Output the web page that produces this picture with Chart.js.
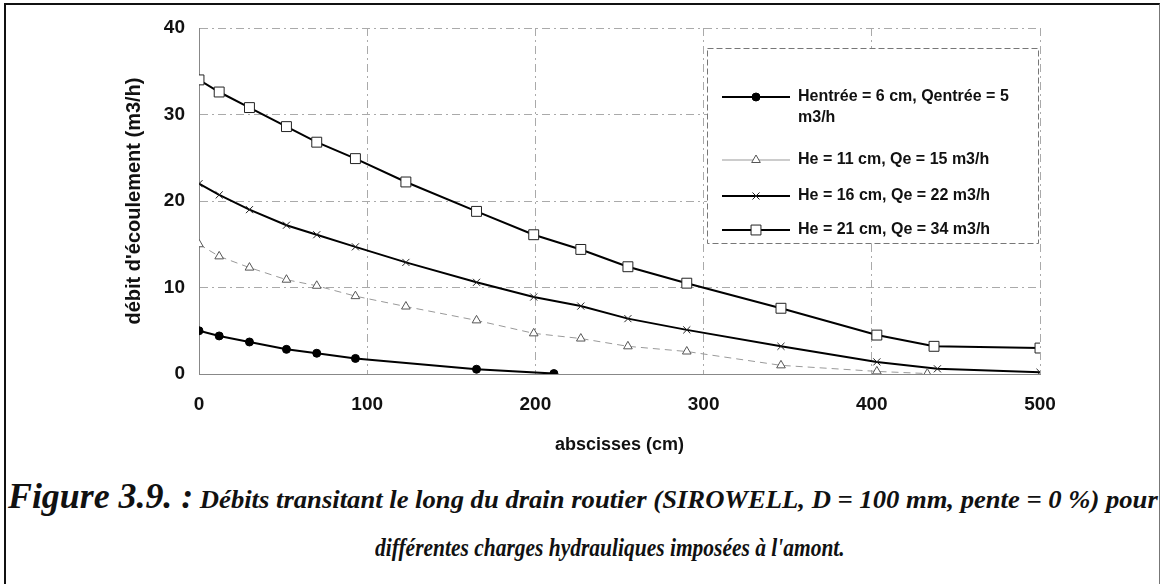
<!DOCTYPE html>
<html lang="fr">
<head>
  <meta charset="UTF-8">
  <title>Figure 3.9</title>
  <script src="https://cdn.jsdelivr.net/npm/chart.js"></script>
  <style>
    html, body {
      margin: 0;
      padding: 0;
      background: #fff;
    }
    .page {
      position: relative;
      width: 1162px;
      height: 584px;
      overflow: hidden;
    }
    .frame {
      position: absolute;
      left: 4px;
      top: 3px;
      width: 1153px;
      height: 600px;
      border-left: 2px solid #111;
      border-top: 2px solid #111;
      border-right: 1px solid #777;
    }
    .chart-box {
      position: absolute;
      left: 0;
      top: 0;
      width: 1162px;
      height: 470px;
    }
    .cap {
      position: absolute;
      white-space: nowrap;
      font-family: 'Liberation Serif', 'Times New Roman', Times, serif;
      font-weight: bold;
      font-style: italic;
      color: #111;
      line-height: 40px;
      transform-origin: 0 50%;
    }
    #cap1 { left: 8px; top: 477px; font-size: 26px; }
    #cap1 .big { font-size: 35px; }
    #cap2 { left: 375px; top: 528px; font-size: 26px; }
  </style>
</head>
<body>
  <div class="page">
    <div class="frame"></div>
    <div class="chart-box"><canvas id="chart" width="1162" height="470"></canvas></div>
    <div class="cap" id="cap1"><span class="big">Figure 3.9. :</span> Débits transitant le long du drain routier (SIROWELL, D = 100 mm, pente = 0 %) pour</div>
    <div class="cap" id="cap2">différentes charges hydrauliques imposées à l'amont.</div>
  </div>

  <script>
    // valeurs
    const labels = [
      ['Hentrée = 6 cm, Qentrée = 5', 'm3/h'],
      ['He = 11 cm, Qe = 15 m3/h'],
      ['He = 16 cm, Qe = 22 m3/h'],
      ['He = 21 cm, Qe = 34 m3/h']
    ];

    const x6 = [0, 12, 30, 52, 70, 93, 165, 211];
    const q6 = [5, 4.4, 3.7, 2.85, 2.4, 1.8, 0.55, 0.05];

    const x11 = [0, 12, 30, 52, 70, 93, 123, 165, 199, 227, 255, 290, 346, 403, 433];
    const q11 = [15, 13.6, 12.3, 10.9, 10.2, 9.0, 7.8, 6.2, 4.7, 4.1, 3.2, 2.6, 1.0, 0.3, 0.05];

    const x16 = [0, 12, 30, 52, 70, 93, 123, 165, 199, 227, 255, 290, 346, 403, 439, 500];
    const q16 = [22, 20.7, 19, 17.2, 16.1, 14.7, 12.9, 10.6, 8.9, 7.85, 6.4, 5.1, 3.2, 1.4, 0.6, 0.2];

    const x21 = [0, 12, 30, 52, 70, 93, 123, 165, 199, 227, 255, 290, 346, 403, 437, 500];
    const q21 = [34, 32.6, 30.8, 28.6, 26.8, 24.9, 22.2, 18.8, 16.1, 14.4, 12.4, 10.5, 7.6, 4.5, 3.2, 3.0];

    const xTicks = [0, 100, 200, 300, 400, 500];
    const yTicks = [0, 10, 20, 30, 40];

    const pts = (xs, ys) => xs.map((x, i) => ({ x: x, y: ys[i] }));

    const FONT = "'Liberation Sans', Arial, sans-serif";

    // legende dessinee a la main (cadre + lignes d'exemple)
    const legendBox = {
      id: 'legendBox',
      afterDraw(chart) {
        const ctx = chart.ctx;
        const left = 707, top = 48, right = 1038, bottom = 243;
        const rows = [97, 160, 196, 230];
        ctx.save();
        ctx.fillStyle = '#fff';
        ctx.fillRect(left, top, right - left, bottom - top);
        ctx.strokeStyle = '#777';
        ctx.lineWidth = 1;
        ctx.setLineDash([6, 3]);
        ctx.strokeRect(left + 0.5, top + 0.5, right - left, bottom - top);
        chart.data.datasets.forEach((ds, i) => {
          const y = rows[i];
          ctx.setLineDash([]);
          ctx.strokeStyle = ds.borderColor;
          ctx.lineWidth = ds.borderWidth;
          ctx.beginPath();
          ctx.moveTo(722, y);
          ctx.lineTo(790, y);
          ctx.stroke();
          ctx.fillStyle = ds.pointBackgroundColor;
          ctx.strokeStyle = ds.pointBorderColor;
          ctx.lineWidth = 1;
          Chart.helpers.drawPoint(ctx, { pointStyle: ds.pointStyle, radius: ds.pointRadius, borderWidth: 1 }, 756, y);
          ctx.fillStyle = '#111';
          ctx.font = 'bold 16px ' + FONT;
          ctx.textBaseline = 'middle';
          ctx.textAlign = 'left';
          labels[i].forEach((t, k) => ctx.fillText(t, 798, y + k * 21));
        });
        ctx.restore();
      }
    };

    new Chart(document.getElementById('chart'), {
      type: 'scatter',
      data: {
        datasets: [
          {
            data: pts(x6, q6), showLine: true,
            borderColor: '#000', borderWidth: 2,
            pointStyle: 'circle', pointRadius: 4,
            pointBackgroundColor: '#000', pointBorderColor: '#000', pointBorderWidth: 1
          },
          {
            data: pts(x11, q11), showLine: true,
            borderColor: '#999', borderWidth: 1, borderDash: [7, 5],
            pointStyle: 'triangle', pointRadius: 5,
            pointBackgroundColor: '#fff', pointBorderColor: '#555', pointBorderWidth: 1
          },
          {
            data: pts(x16, q16), showLine: true,
            borderColor: '#000', borderWidth: 2,
            pointStyle: 'crossRot', pointRadius: 5,
            pointBackgroundColor: '#fff', pointBorderColor: '#222', pointBorderWidth: 1
          },
          {
            data: pts(x21, q21), showLine: true,
            borderColor: '#000', borderWidth: 2,
            pointStyle: 'rect', pointRadius: 7,
            pointBackgroundColor: '#fff', pointBorderColor: '#222', pointBorderWidth: 1
          }
        ]
      },
      options: {
        responsive: false,
        animation: false,
        layout: { padding: { top: 28, right: 122, left: 0, bottom: 0 } },
        plugins: {
          legend: { display: false },
          tooltip: { enabled: false }
        },
        scales: {
          x: {
            type: 'linear', min: 0, max: 500,
            afterFit: s => { s.height = 96; },
            afterBuildTicks: s => { s.ticks = xTicks.map(v => ({ value: v })); },
            border: { display: true, color: '#888', dash: [8, 4, 2, 4] },
            grid: { color: '#aaa', lineWidth: 1, drawTicks: false, borderDash: [8, 4, 2, 4] },
            ticks: { padding: 19, color: '#111', font: { family: FONT, size: 19, weight: 'bold' } },
            title: {
              display: true, text: 'abscisses (cm)', color: '#111',
              font: { family: FONT, size: 18, weight: 'bold' },
              padding: { top: 0, bottom: 14 }
            }
          },
          y: {
            min: 0, max: 40,
            afterFit: s => { s.width = 199; },
            afterBuildTicks: s => { s.ticks = yTicks.map(v => ({ value: v })); },
            border: { display: true, color: '#888', dash: [8, 4, 2, 4] },
            grid: { color: '#aaa', lineWidth: 1, drawTicks: false, borderDash: [8, 8] },
            ticks: { padding: 14, color: '#111', font: { family: FONT, size: 19, weight: 'bold' } },
            title: {
              display: true, text: "débit d'écoulement (m3/h)", color: '#111',
              font: { family: FONT, size: 20, weight: 'bold' },
              padding: { top: 122, bottom: 0 }
            }
          }
        }
      },
      plugins: [legendBox]
    });

    // ajuster la legende de figure en largeur
    const fit = (id, w) => {
      const el = document.getElementById(id);
      el.style.transform = 'scaleX(' + (w / el.scrollWidth) + ')';
    };
    fit('cap1', 1150);
    fit('cap2', 470);
  </script>
</body>
</html>
